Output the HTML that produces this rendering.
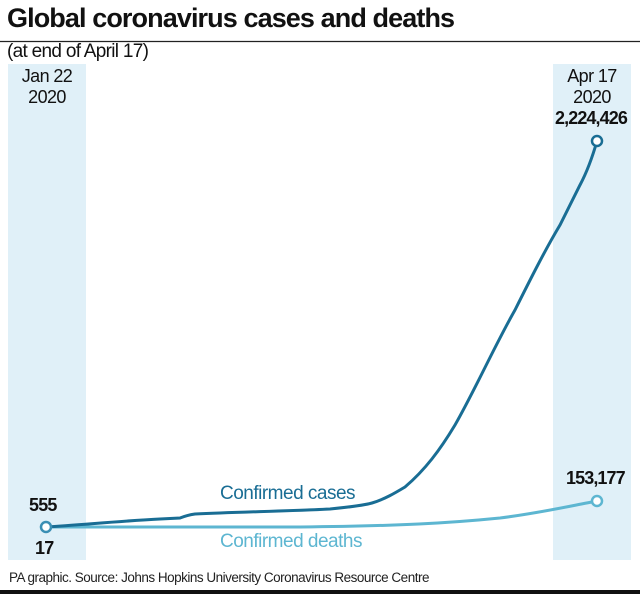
<!DOCTYPE html>
<html><head><style>
body{margin:0;width:640px;height:594px;background:#fff;font-family:"Liberation Sans",sans-serif;overflow:hidden;position:relative}
.t{position:absolute;white-space:nowrap;color:#111}
</style></head><body>
<svg width="640" height="594" style="position:absolute;left:0;top:0">
<rect x="8" y="64" width="78" height="496" fill="#e0f0f8"/>
<rect x="553" y="64" width="78" height="496" fill="#e0f0f8"/>
<line x1="0" y1="41.5" x2="640" y2="41.5" stroke="#222" stroke-width="1.2"/>
<rect x="0" y="590" width="640" height="4" fill="#111"/>
<path d="M46,527 L300,527 C400,526 450,523 500,518 C540,513 570,506 597,501" fill="none" stroke="#5db6d1" stroke-width="3"/>
<path d="M46,527 C80,525 120,521 160,519 L180,518 C185,516 188,515 195,514 C240,512 290,511 330,509 C350,507 365,505 372,503 C385,499 395,493 405,487 C425,470 440,450 455,425 C475,390 495,345 515,310 C530,280 545,250 560,225 C570,205 575,195 580,185 C588,170 593,155 597,141" fill="none" stroke="#196d94" stroke-width="3"/>
<circle cx="46" cy="527" r="5" fill="#fff" stroke="#3a8fb4" stroke-width="2.5"/>
<circle cx="597" cy="141" r="5" fill="#fff" stroke="#196d94" stroke-width="2.5"/>
<circle cx="597" cy="501" r="5" fill="#fff" stroke="#5db6d1" stroke-width="2.5"/>
</svg>
<div class="t" style="left:7px;top:3px;font-size:27px;font-weight:bold;letter-spacing:-0.9px">Global coronavirus cases and deaths</div>
<div class="t" style="left:7px;top:41px;font-size:19px;letter-spacing:-0.7px">(at end of April 17)</div>
<div class="t" style="left:8px;width:78px;top:66px;font-size:18px;text-align:center;line-height:21px;letter-spacing:-0.6px">Jan 22<br>2020</div>
<div class="t" style="left:553px;width:78px;top:66px;font-size:18px;text-align:center;line-height:21px;letter-spacing:-0.6px">Apr 17<br>2020</div>
<div class="t" style="left:555px;top:108px;font-size:18px;font-weight:bold;letter-spacing:-0.9px">2,224,426</div>
<div class="t" style="left:566px;top:468px;font-size:18px;font-weight:bold;letter-spacing:-0.9px">153,177</div>
<div class="t" style="left:29px;top:495px;font-size:18px;font-weight:bold;letter-spacing:-0.8px">555</div>
<div class="t" style="left:35px;top:538px;font-size:18px;font-weight:bold;letter-spacing:-0.8px">17</div>
<div class="t" style="left:220px;top:483px;font-size:19px;color:#196d94;letter-spacing:-0.5px">Confirmed cases</div>
<div class="t" style="left:220px;top:531px;font-size:19px;color:#5db6d1;letter-spacing:-0.5px">Confirmed deaths</div>
<div class="t" style="left:9px;top:570px;font-size:13.5px;color:#222;letter-spacing:-0.5px">PA graphic. Source: Johns Hopkins University Coronavirus Resource Centre</div>
</body></html>
